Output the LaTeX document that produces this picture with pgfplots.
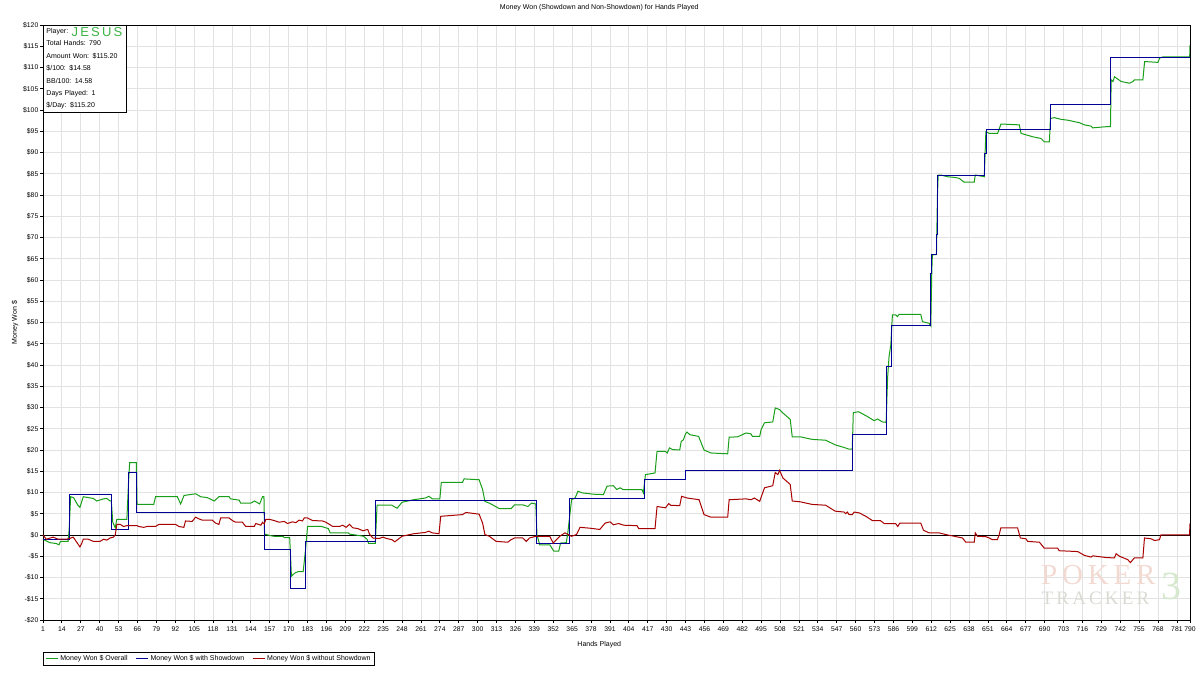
\documentclass[border=0pt]{standalone}
\usepackage{pgfplots}
\pgfplotsset{compat=1.18}
\usepackage{fontspec}
\setmainfont{Liberation Sans}
\newfontfamily\wmfont{Liberation Serif}
\definecolor{gOverall}{RGB}{24,158,24}
\definecolor{bShow}{RGB}{0,0,150}
\definecolor{rNoShow}{RGB}{168,0,0}
\definecolor{gridgray}{RGB}{226,226,226}
\definecolor{jesus}{RGB}{60,180,70}
\definecolor{wmpink}{RGB}{242,218,210}
\definecolor{wmgray}{RGB}{218,218,212}
\definecolor{wmgreen}{RGB}{214,232,206}
\begin{document}
\begin{tikzpicture}
\useasboundingbox (-43pt,-56pt) rectangle (1157pt,620pt);
\begin{axis}[
  at={(0pt,0pt)}, anchor=south west,
  scale only axis, width=1147pt, height=595pt,
  xmin=1, xmax=790, ymin=-20, ymax=120,
  xtick={1,14,27,40,53,66,79,92,105,118,131,144,157,170,183,196,209,222,235,248,261,274,287,300,313,326,339,352,365,378,391,404,417,430,443,456,469,482,495,508,521,534,547,560,573,586,599,612,625,638,651,664,677,690,703,716,729,742,755,768,781,790},
  xticklabels={1,14,27,40,53,66,79,92,105,118,131,144,157,170,183,196,209,222,235,248,261,274,287,300,313,326,339,352,365,378,391,404,417,430,443,456,469,482,495,508,521,534,547,560,573,586,599,612,625,638,651,664,677,690,703,716,729,742,755,768,781,790},
  ytick={-20,-15,-10,-5,0,5,10,15,20,25,30,35,40,45,50,55,60,65,70,75,80,85,90,95,100,105,110,115,120},
  yticklabels={-\$20,-\$15,-\$10,-\$5,\$0,\$5,\$10,\$15,\$20,\$25,\$30,\$35,\$40,\$45,\$50,\$55,\$60,\$65,\$70,\$75,\$80,\$85,\$90,\$95,\$100,\$105,\$110,\$115,\$120},
  tick align=outside, major tick length=3pt,
  xtick pos=bottom, ytick pos=left,
  tick style={black, line width=0.8pt},
  ticklabel style={font=\fontsize{6.8}{7}\selectfont},
  xticklabel style={text height=5pt, text depth=0pt, inner xsep=0pt},
  yticklabel style={inner xsep=1.5pt},
  grid=major, grid style={gridgray, line width=0.8pt},
  axis line style={black, line width=0.9pt},
  title={Money Won (Showdown and Non-Showdown) for Hands Played},
  title style={at={(axis description cs:0.485,1)}, anchor=base, yshift=9pt, inner sep=0pt, font=\fontsize{7}{8}\selectfont},
  xlabel={Hands Played},
  xlabel style={at={(axis description cs:0.485,0)}, anchor=center, yshift=-25pt, font=\fontsize{7}{8}\selectfont},
  ylabel={Money Won \$},
  ylabel style={at={(axis description cs:0,0.5)}, anchor=center, yshift=28pt, font=\fontsize{7}{8}\selectfont},
  legend style={at={(axis description cs:0,-0.054)}, anchor=north west, draw=black, line width=0.8pt,
    font=\fontsize{7}{8}\selectfont, inner xsep=2pt, inner ysep=1pt, cells={anchor=west},
    /tikz/every even column/.append style={column sep=6pt}},
  legend columns=3,
  legend image code/.code={\draw[#1, line width=1pt] (0pt,0pt) -- (12pt,0pt);},
]
% zero reference line
\addplot[black, line width=0.9pt, forget plot] coordinates {(1,0) (790,0)};

% Money Won $ Overall
\addplot[gOverall, line width=1pt] coordinates {
(1,-1.0) (5.6,-1.8) (10,-2.0) (12,-2.3) (13,-1.5) (18.3,-1.5) (19,1.3) (20,9.0) (22,8.8) (25,7.0) (26.4,6.5)
(28.7,9.0) (35.6,8.6) (38,8.0) (42.6,8.5) (44.9,8.6) (47.2,8.0) (48,8.0) (49,3.0) (50.7,1.7) (51.8,3.7)
(58.7,3.7) (59.9,12.8) (60.6,17.0) (65.2,17.0) (65.7,7.2) (77.2,7.2) (78.4,9.0) (93.4,9.0) (95.7,7.3)
(98,9.3) (106,9.7) (109.5,9.0) (114,8.8) (118.8,8.0) (122,9.0) (129,9.0) (130,8.5) (136,8.2) (137,7.5)
(144,7.5) (146.5,8.0) (150,7.3) (152,9.0) (153,9.0) (153.4,0.2) (158,-0.2) (160,-0.3) (166,-0.3)
(167,-0.6) (170.7,-0.6) (171.9,-9.7) (174,-9.0) (176.5,-8.6) (180,-8.6) (181.6,-3.4) (183,2.0)
(192.7,2.0) (197.3,1.5) (198.5,0.5) (211,0.5) (212,0.2) (216,0.0) (221.5,-0.3) (223.9,-1.0) (225,-2.0)
(229.6,-2.0) (230.8,7.0) (241,7.0) (243.5,6.5) (244.6,6.3) (248,7.7) (256,8.3) (264,8.7) (266.5,9.1)
(268.8,8.5) (274,8.5) (275,12.4) (289.6,12.4) (290.7,13.2) (301,13.0) (303.4,10.7) (305,7.9) (308,7.5)
(315,6.2) (323,6.2) (325.4,7.1) (331,7.1) (334.6,6.7) (337,7.5) (340,7.3) (340.8,0.0) (342.7,-2.3)
(349.6,-2.3) (352.4,-3.8) (355.8,-3.8) (357,-1.9) (361,-1.8) (362,0.5) (364.6,8.3) (367,8.7) (369,10.3)
(372,9.9) (379.6,9.6) (386.5,9.5) (389,11.5) (393.4,11.6) (395.7,10.7) (398,11.1) (400,10.7) (413,10.7)
(414,9.9) (415.4,14.2) (422,14.6) (423.4,19.7) (429,19.7) (430.4,19.3) (432,20.5) (434,20.1) (439,20.0)
(440,22.0) (441.5,22.4) (443,23.8) (444,24.2) (446,23.6) (452,23.2) (455.7,20.0) (460.4,19.3) (472,19.1)
(473,23.0) (478.8,23.1) (484.6,24.0) (488,23.8) (489,23.2) (494,23.2) (495,24.8) (497.3,26.4) (503,26.6)
(504.7,29.9) (507.7,29.5) (510,28.7) (515,27.2) (516.4,23.1) (522,23.1) (530,22.5) (539.4,22.3)
(546,21.2) (552,20.6) (555.5,20.2) (557.7,20.2) (558.4,28.8) (562,29.0) (568,27.9) (572.7,26.9)
(575,27.3) (578.4,26.6) (581,26.5) (582,37.0) (583,42.0) (584.2,44.7) (585.3,51.8) (587.6,51.8)
(588.8,51.4) (589.9,51.9) (604.8,51.9) (606,50.2) (610.6,49.8) (611.7,49.2) (612.4,62.0) (612.8,65.9)
(615.6,66.0) (616.3,80.0) (616.8,84.7) (618.6,84.7) (623.2,84.3) (629,84.1) (631.3,83.9) (634.7,83.0)
(641.6,83.0) (642.3,84.7) (648.5,84.3) (649.6,94.9) (651.9,94.5) (657.7,94.5) (660,96.7) (672.6,96.5)
(673.8,94.5) (681.8,93.7) (687.5,93.3) (689.8,92.5) (693.3,92.5) (694,98.0) (696.7,98.2) (701.3,97.8)
(705.9,97.6) (714,97.0) (717.4,96.5) (722,96.2) (723.1,95.8) (733.5,96.1) (735.3,96.1) (735.8,107.1)
(737,106.7) (738.1,107.8) (742.7,106.7) (748.4,106.3) (750.7,106.7) (751.9,107.1) (757.6,107.1)
(758.8,111.4) (768,111.2) (769.1,112.2) (771.4,112.5) (789.8,112.5) (790,115.2)
};
\addlegendentry{Money Won \$ Overall}

% Money Won $ with Showdown
\addplot[bShow, line width=1pt, const plot] coordinates {
(1,-1.0) (19.5,9.6) (48,1.3) (59.5,14.7) (65.5,5.4) (153.4,-3.4) (171.5,-12.7) (181.5,-1.6)
(229.8,8.0) (340.5,-2.1) (363.5,8.5) (414.8,13.0) (443.2,15.2) (557.9,23.7) (581.5,39.6) (584.6,49.2)
(611.7,61.6) (612.4,65.9) (615.3,70.6) (616,80.0) (616.6,84.5) (648.5,89.8) (649.7,95.3) (694,101.2)
(735.5,112.4) (790,112.4)
};
\addlegendentry{Money Won \$ with Showdown}

% Money Won $ without Showdown
\addplot[rNoShow, line width=1pt] coordinates {
(1,0) (3.3,-1.0) (8,-0.5) (11.4,-1.0) (17,-1.0) (19.5,-0.8) (21.8,-0.5) (26.4,-2.8) (27.6,-2.0)
(28.7,-1.0) (32.2,-1.0) (35.6,-1.5) (40.3,-1.5) (42.6,-1.0) (44.9,-1.2) (47.2,-0.7) (49.5,-0.5)
(50.7,0) (51.8,2.5) (54.1,2.5) (56.4,2.0) (58.7,2.2) (65.7,2.2) (66.9,2.0) (70.3,1.8) (72.6,2.0)
(78.4,2.0) (80.7,2.5) (92.2,2.5) (94.5,2.0) (97.9,1.8) (99,3.3) (103.6,3.2) (106,4.2) (108.2,3.8)
(110.5,3.5) (117.4,3.5) (119.7,2.8) (122,2.5) (123.2,4.0) (129,4.0) (131.3,3.4) (133.6,3.0) (138.2,3.0)
(139.3,2.5) (140.5,2.0) (146.3,2.0) (147.4,2.7) (150.9,2.3) (152,3.0) (153.2,2.6) (154.3,3.7)
(156.6,3.7) (160,3.4) (163.5,3.0) (166.9,3.2) (169.2,2.7) (172.6,3.1) (174.9,2.9) (177.2,3.5)
(179.5,3.3) (180.7,4.0) (183,4.0) (186.4,3.4) (193.3,3.3) (195.6,3.0) (198,2.5) (200.3,2.0) (204.9,2.0)
(207.2,2.3) (209.5,1.8) (211.8,2.5) (214.1,1.7) (217.6,1.5) (221,1.0) (224.4,1.3) (225.6,0.2)
(227.9,-0.7) (230.2,-0.8) (232.5,-0.8) (234.8,-0.5) (237.1,-0.8) (241,-1.1) (243,-1.6) (245.7,-0.9)
(248,-0.3) (256,0.3) (264,0.6) (266.5,0.9) (268.8,0.5) (273.4,0.3) (274.6,4.4) (289.6,4.8) (291.9,5.3)
(301,4.9) (303.4,2.8) (305,0.1) (308,-0.3) (312.7,-1.5) (320.7,-1.7) (323,-1.1) (325.4,-0.7) (331,-0.7)
(333.4,-1.5) (335.7,-0.7) (340,-0.3) (349.6,-0.3) (352,-1.9) (354.2,-1.1) (356.5,-0.3) (360,0.5)
(362.3,0.1) (364.6,-0.3) (368,0.1) (370.4,1.8) (377.3,1.6) (384,1.3) (387.7,2.8) (391.1,3.1)
(393.4,2.4) (396.9,2.7) (400.4,2.3) (409.6,2.2) (410.8,1.5) (422,1.5) (423.4,6.7) (429.2,6.4)
(431.5,7.4) (432.7,7.0) (439,6.9) (440.3,9.1) (444.2,8.7) (452.3,8.3) (455.7,4.8) (460.4,4.2) (472,4.2)
(473,8.3) (484.6,8.5) (488,8.3) (490.4,8.7) (494,7.9) (497.3,11.1) (503,11.6) (504.7,14.7) (506.5,14.2)
(507.7,15.2) (510,13.4) (515,11.9) (516.4,8.0) (522,7.8) (530,7.2) (539.4,7.0) (546,5.6) (552,5.4)
(553.2,5.0) (554.3,5.4) (555.5,4.8) (557.7,4.8) (559,5.4) (562.5,5.2) (567,4.4) (571.5,3.4) (577,3.4)
(579.6,2.7) (587.5,2.7) (589,2.0) (590.4,2.8) (604.8,2.8) (606.7,1.1) (610.6,0.5) (617.5,0.5) (622,0.1)
(627.8,-0.3) (633.5,-0.7) (635.8,-1.7) (641.6,-1.7) (642.3,0.5) (643.9,-0.3) (649.6,-0.4) (651.9,-0.7)
(654,-1.1) (657.5,-1.1) (658.7,0) (659.9,1.7) (671.4,1.7) (673.3,-0.7) (677.2,-0.9) (678.3,-1.5)
(686.4,-1.7) (689.8,-3.1) (699,-3.1) (700,-3.7) (712.8,-3.9) (717.4,-4.8) (722,-5.2) (723.1,-4.9)
(732.3,-5.3) (738,-5.4) (739.2,-4.4) (741.5,-5.0) (747.2,-5.8) (749,-6.5) (751.7,-5.4) (757.6,-5.4)
(758.7,-0.7) (763.3,-0.9) (765.6,-1.3) (769,-1.1) (770,0) (789.7,0) (790,2.7)
};
\addlegendentry{Money Won \$ without Showdown}

% watermark
\node[font=\wmfont\fontsize{29}{29}\selectfont, text=wmpink, anchor=center] at (axis cs:727,-9.4) {P\,O\,K\,E\,R};
\node[font=\wmfont\fontsize{19}{19}\selectfont, text=wmgray, anchor=center] at (axis cs:725,-14.8) {T\,R\,A\,C\,K\,E\,R};
\node[font=\wmfont\fontsize{40}{40}\selectfont, text=wmgreen, anchor=center] at (axis cs:777,-12.2) {3};

% player summary box
\node[draw=black, line width=0.9pt, fill=white, anchor=north west, inner sep=3pt,
      text width=77pt, align=left, font=\fontsize{7}{12.4}\selectfont]
  at (rel axis cs:0,1) {%
  Player: \rlap{\smash{\raisebox{-2.5pt}{\fontsize{13}{13}\selectfont\color{jesus}J\,E\,S\,U\,S}}}\\
  Total Hands: 790\\
  Amount Won: \$115.20\\
  \$/100: \$14.58\\
  BB/100: 14.58\\
  Days Played: 1\\
  \$/Day: \$115.20};
\end{axis}
\end{tikzpicture}
\end{document}
